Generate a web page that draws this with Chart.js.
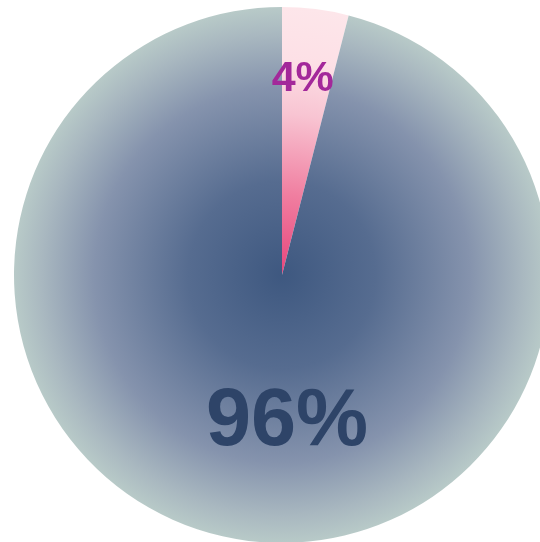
<!DOCTYPE html>
<html>
<head>
<meta charset="utf-8">
<script src="https://cdn.jsdelivr.net/npm/chart.js@4/dist/chart.umd.min.js"></script>
<style>
  html, body { margin: 0; padding: 0; background: #fff; overflow: hidden; }
  #wrap { position: absolute; left: 0; top: 0; width: 564px; height: 550px; }
</style>
</head>
<body>
<div id="wrap"><canvas id="pie" width="564" height="550"></canvas></div>
<script>
// slice data
const categories = ['Small share', 'Large share'];
const values = [4, 96];
const valueLabels = ['4%', '96%'];

// radial gradient stops per slice (centre -> rim)
const sliceStops = [
    [[0, '#e8457c'], [0.3, '#f07ea0'], [0.6, '#f8c4d2'], [0.8, '#fde0e6'], [1, '#fde6ea']],
    [[0, '#3e5880'], [0.35, '#566c90'], [0.7, '#8593ad'], [0.9, '#a9b8c0'], [1, '#b8cac8']]
];
const labelColors = ['#a3289a', '#2e4468'];

function sliceFill(context) {
    const chart = context.chart;
    const area = chart.chartArea;
    if (!area) return '#888';
    const cx = (area.left + area.right) / 2;
    const cy = (area.top + area.bottom) / 2;
    const r = 268;
    const g = chart.ctx.createRadialGradient(cx, cy, 0, cx, cy, r);
    sliceStops[context.dataIndex].forEach(s => g.addColorStop(s[0], s[1]));
    return g;
}

const labelPlugin = {
    id: 'sliceLabels',
    afterDatasetsDraw(chart) {
        const ctx = chart.ctx;
        const arcs = chart.getDatasetMeta(0).data;
        ctx.save();
        ctx.textAlign = 'center';
        ctx.textBaseline = 'middle';
        arcs.forEach((arc, i) => {
            let x, y;
            if (i === 0) {
                const mid = (arc.startAngle + arc.endAngle) / 2 - 0.02;
                x = arc.x + Math.cos(mid) * arc.outerRadius * 0.735;
                y = arc.y + Math.sin(mid) * arc.outerRadius * 0.735;
                ctx.font = 'bold 43px "Liberation Sans", Arial, sans-serif';
            } else {
                x = arc.x + 5;
                y = arc.y + arc.outerRadius * 0.55;
                ctx.font = 'bold 81px "Liberation Sans", Arial, sans-serif';
            }
            ctx.fillStyle = labelColors[i];
            ctx.fillText(valueLabels[i], x, y);
        });
        ctx.restore();
    }
};

new Chart(document.getElementById('pie').getContext('2d'), {
    type: 'pie',
    data: {
        labels: categories,
        datasets: [{ data: values, backgroundColor: sliceFill, borderWidth: 0, radius: 268 }]
    },
    options: {
        responsive: false,
        animation: false,
        layout: { padding: 0 },
        plugins: { legend: { display: false }, tooltip: { enabled: false } }
    },
    plugins: [labelPlugin]
});
</script>
</body>
</html>
